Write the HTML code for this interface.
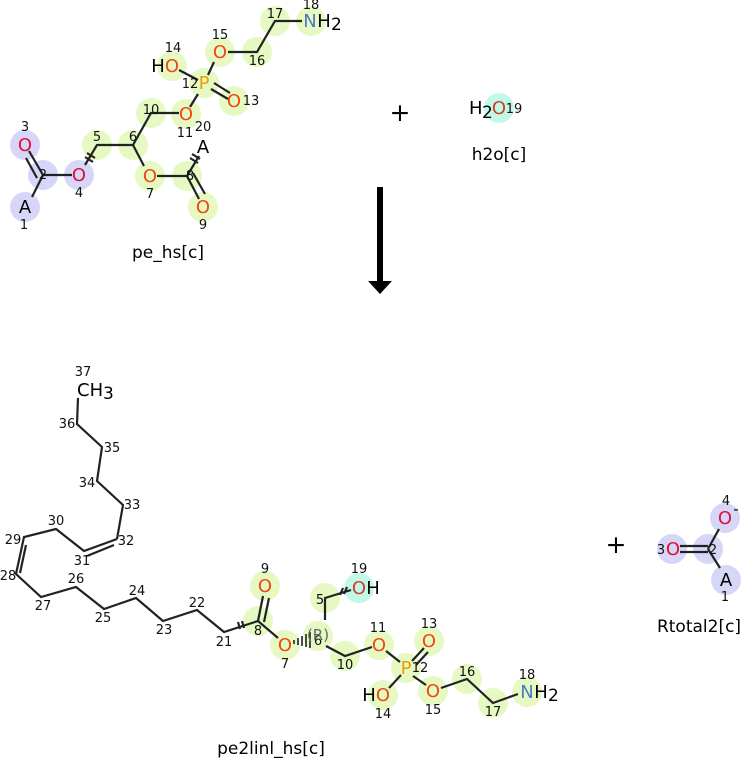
<!DOCTYPE html>
<html><head><meta charset="utf-8"><style>
html,body{margin:0;padding:0;background:#fff}
svg{display:block}
text{font-family:"DejaVu Sans","Liberation Sans",sans-serif}
.n{font-size:13px;fill:#111;text-anchor:middle}
.a{font-size:18px;text-anchor:middle}
.t{font-size:17px;fill:#000;text-anchor:middle}
.b{stroke:#222;stroke-width:2.2;fill:none}
</style></head><body>
<svg width="741" height="759" viewBox="0 0 741 759" xmlns="http://www.w3.org/2000/svg">
<g fill="#e6f9c2">
<circle cx="97" cy="145" r="15"/><circle cx="133" cy="145" r="15"/><circle cx="150" cy="176" r="15"/><circle cx="187" cy="176" r="15"/><circle cx="203" cy="207" r="15"/><circle cx="151" cy="113" r="15"/><circle cx="186" cy="114" r="15"/><circle cx="204" cy="83" r="15"/><circle cx="234" cy="101" r="15"/><circle cx="172" cy="66" r="15"/><circle cx="220" cy="52" r="15"/><circle cx="257" cy="52" r="15"/><circle cx="275" cy="21" r="15"/><circle cx="311" cy="21" r="15"/>
<circle cx="265" cy="586" r="15"/><circle cx="258" cy="621" r="15"/><circle cx="285" cy="645" r="15"/><circle cx="318" cy="636" r="15"/><circle cx="325" cy="598" r="15"/><circle cx="345" cy="656" r="15"/><circle cx="379" cy="645" r="15"/><circle cx="406" cy="668" r="15"/><circle cx="429" cy="641" r="15"/><circle cx="383" cy="695" r="15"/><circle cx="433" cy="691" r="15"/><circle cx="467" cy="679" r="15"/><circle cx="493" cy="703" r="15"/><circle cx="527" cy="692" r="15"/>
</g>
<g fill="#d6d6f8">
<circle cx="25" cy="207" r="15"/><circle cx="43" cy="175" r="15"/><circle cx="25" cy="145" r="15"/><circle cx="79" cy="175" r="15"/>
<circle cx="672" cy="549" r="15"/><circle cx="708" cy="549" r="15"/><circle cx="725" cy="518" r="15"/><circle cx="726" cy="580" r="15"/>
</g>
<g fill="#c2f8e6"><circle cx="499" cy="108" r="15"/><circle cx="359" cy="588" r="15"/></g>

<g class="b">
<path d="M32 197L43 175L72 175"/><path d="M43 175L29 151M37 178L26 158"/>
<path d="M85 165L97 145L133 145L151 113L179 113"/><path d="M133 145L144 166"/>
<path d="M157 176L187 176L199 156"/><path d="M187 176L199 199M193 173L205 194"/>
<path d="M190 107L198 94"/><path d="M179 70L198 80"/><path d="M211 89L228 99M214 83L230 93"/><path d="M208 75L214 62"/>
<path d="M228 52L257 52L275 21L302 21"/>
<path d="M85 157L93 162M87 153L95 158M190 158L198 163M192 154L200 159"/>
</g>
<g class="b">
<path d="M78 398L77 424L102 447L97 481L123 505L117 539"/>
<path d="M117 539L84 551L56 529L24 537L16 574L41 597L76 587L104 609L136 598L163 621L197 610L224 632L258 621L278 638"/>
<path d="M114 545L87 556M26 545L20 573"/>
<path d="M258 621L263 596M264 622L269 598"/>
<path d="M325 620L325 598L351 590"/>
<path d="M326 646L345 656L372 647"/>
<path d="M386 651L400 662M412 661L424 648M416 665L428 652M401 675L389 688M413 676L426 685"/>
<path d="M441 688L467 679L493 703L518 694"/>
<path d="M240 629L238 622M244 628L242 621M340 595L343 588M344 594L347 587"/>
</g>
<g stroke="#222" stroke-width="1.6">
<path d="M294 640L294 644M298 638L298 645M302 636L302 646M306 634L306 647M310 632L310 648"/>
</g>
<g class="b"><path d="M680 546L708 546M680 552L708 552M708 549L719 529M708 549L720 568"/></g>

<text class="a" x="25" y="213" fill="#000">A</text>
<text class="a" x="25" y="151" fill="#e0103a">O</text>
<text class="a" x="79" y="181" fill="#e0103a">O</text>
<text class="a" x="150" y="182" fill="#f04810">O</text>
<text class="a" x="203" y="213" fill="#f04810">O</text>
<text class="a" x="186" y="120" fill="#f04810">O</text>
<text class="a" x="204" y="89" fill="#e8a000">P</text>
<text class="a" x="234" y="107" fill="#f04810">O</text>
<text class="a" x="172" y="72" fill="#f04810">O</text><text class="a" x="158" y="72" fill="#000">H</text>
<text class="a" x="220" y="58" fill="#f04810">O</text>
<text class="a" x="310" y="27" fill="#4a7ac0">N</text><text class="a" x="324" y="27" fill="#000">H</text><text x="331" y="30" font-size="17" fill="#000">2</text>
<text class="a" x="203" y="153" fill="#000">A</text>
<g class="n">
<text x="24" y="229">1</text><text x="43" y="179">2</text><text x="25" y="131">3</text><text x="79" y="197">4</text><text x="97" y="141">5</text><text x="133" y="141">6</text><text x="150" y="198">7</text><text x="190" y="180">8</text><text x="203" y="229">9</text><text x="151" y="114">10</text><text x="185" y="137">11</text><text x="190" y="88">12</text><text x="251" y="105">13</text><text x="173" y="52">14</text><text x="220" y="39">15</text><text x="257" y="65">16</text><text x="275" y="18">17</text><text x="311" y="9">18</text><text x="203" y="131">20</text>
</g>
<text class="t" x="168" y="258">pe_hs[c]</text>

<text x="400" y="121" font-size="25" text-anchor="middle" fill="#000">+</text>
<text x="469" y="114" font-size="18" fill="#000">H</text><text x="482" y="118" font-size="17" fill="#000">2</text>
<text class="a" x="499" y="114" fill="#d04030">O</text>
<text x="514" y="113" font-size="13" text-anchor="middle" fill="#111">19</text>
<text class="t" x="499" y="160">h2o[c]</text>

<rect x="377" y="187" width="6" height="96" fill="#000"/>
<path d="M368 281L392 281L380 294Z" fill="#000"/>

<text x="77" y="396" font-size="18" fill="#000">CH</text><text x="103" y="399" font-size="17" fill="#000">3</text>
<g class="n">
<text x="83" y="376">37</text><text x="67" y="428">36</text><text x="112" y="452">35</text><text x="87" y="487">34</text><text x="132" y="509">33</text><text x="126" y="545">32</text><text x="82" y="565">31</text><text x="56" y="525">30</text><text x="13" y="544">29</text><text x="8" y="580">28</text><text x="43" y="610">27</text><text x="76" y="583">26</text><text x="103" y="622">25</text><text x="137" y="595">24</text><text x="164" y="634">23</text><text x="197" y="607">22</text><text x="224" y="646">21</text>
<text x="258" y="635">8</text><text x="265" y="573">9</text><text x="285" y="668">7</text><text x="318" y="645">6</text><text x="320" y="604">5</text><text x="359" y="573">19</text><text x="345" y="669">10</text><text x="378" y="632">11</text><text x="420" y="672">12</text><text x="429" y="628">13</text><text x="383" y="718">14</text><text x="433" y="714">15</text><text x="467" y="676">16</text><text x="493" y="716">17</text><text x="527" y="679">18</text>
</g>
<text x="318" y="640" font-size="15" fill="#666" text-anchor="middle">(R)</text>
<text class="a" x="265" y="592" fill="#f04810">O</text>
<text class="a" x="285" y="651" fill="#f04810">O</text>
<text class="a" x="359" y="594" fill="#d04030">O</text><text class="a" x="373" y="594" fill="#000">H</text>
<text class="a" x="379" y="651" fill="#f04810">O</text>
<text class="a" x="406" y="674" fill="#e8a000">P</text>
<text class="a" x="429" y="647" fill="#f04810">O</text>
<text class="a" x="383" y="701" fill="#f04810">O</text><text class="a" x="369" y="701" fill="#000">H</text>
<text class="a" x="433" y="697" fill="#f04810">O</text>
<text class="a" x="527" y="698" fill="#4a7ac0">N</text><text class="a" x="541" y="698" fill="#000">H</text><text x="548" y="701" font-size="17" fill="#000">2</text>
<text class="t" x="271" y="754">pe2linl_hs[c]</text>

<text x="616" y="553" font-size="25" text-anchor="middle" fill="#000">+</text>
<text class="a" x="673" y="555" fill="#e0103a">O</text>
<text class="a" x="725" y="524" fill="#e0103a">O</text>
<text x="736" y="514" font-size="15" fill="#000" text-anchor="middle">-</text>
<text class="a" x="726" y="586" fill="#000">A</text>
<g class="n"><text x="661" y="554">3</text><text x="713" y="554">2</text><text x="726" y="505">4</text><text x="725" y="601">1</text></g>
<text class="t" x="699" y="632">Rtotal2[c]</text>
</svg>
</body></html>
